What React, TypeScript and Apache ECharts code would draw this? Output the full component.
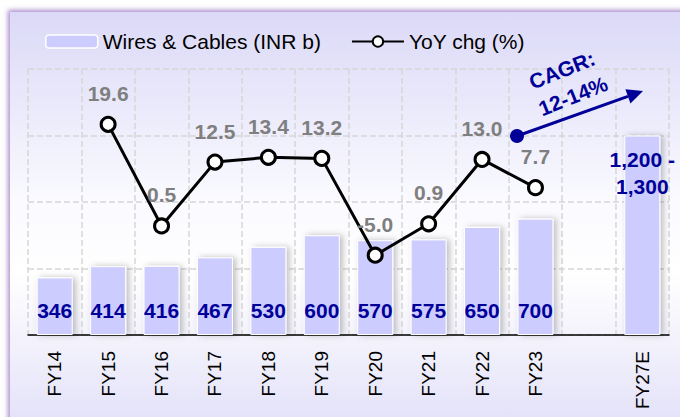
import React, { useEffect, useRef } from "react";
import * as echarts from "echarts";

const categories = ["FY14", "FY15", "FY16", "FY17", "FY18", "FY19", "FY20", "FY21", "FY22", "FY23", "", "FY27E"];
const wiresCables: (number | null)[] = [346, 414, 416, 467, 530, 600, 570, 575, 650, 700, null, 1200];
const yoyChg: (number | null)[] = [null, 19.6, 0.5, 12.5, 13.4, 13.2, -5.0, 0.9, 13.0, 7.7, null, null];
const fy27Range = ["1,200", "1,300"];
const cagrText = ["CAGR:", "12-14%"];

const FONT = "Liberation Sans";
const NAVY = "#000099";

export default function App() {
  const ref = useRef<HTMLDivElement>(null);
  useEffect(() => {
    if (!ref.current) return;
    const chart = echarts.init(ref.current, undefined, { renderer: "svg" });

    const barData = wiresCables.map((v, i) => {
      if (v === null) return "-";
      if (categories[i] === "FY27E") {
        return {
          value: v,
          label: {
            position: "insideTop",
            distance: 10,
            formatter: fy27Range[0] + " -\n" + fy27Range[1],
            lineHeight: 27,
          },
        };
      }
      return v;
    });

    // arrow geometry
    const sx = 517, sy = 136, tx = 643, ty = 91;
    const dx = tx - sx, dy = ty - sy;
    const len = Math.sqrt(dx * dx + dy * dy);
    const ux = dx / len, uy = dy / len;
    const hl = 16, hw = 7.5;
    const bx = tx - ux * hl, by = ty - uy * hl;
    const px = -uy, py = ux;

    chart.setOption({
      animation: false,
      textStyle: { fontFamily: FONT },
      grid: { left: 28, right: 11, top: 69, bottom: 82 },
      legend: {
        top: 26,
        left: 40,
        itemWidth: 52,
        itemHeight: 13,
        itemGap: 30,
        textStyle: { fontSize: 21, color: "#000", fontFamily: FONT },
        data: [
          { name: "Wires & Cables (INR b)", itemStyle: { color: "#ccccff", borderColor: "#fff", borderWidth: 1.5 } },
          { name: "YoY chg (%)" },
        ],
      },
      xAxis: {
        type: "category",
        data: categories,
        axisLine: { lineStyle: { color: "#000", width: 1.5 } },
        axisTick: { show: false },
        axisLabel: { rotate: 90, fontSize: 19, color: "#000", margin: 16, fontFamily: FONT },
        splitLine: { show: true, lineStyle: { color: "#d6d6d6", type: "dashed", width: 1.5 } },
      },
      yAxis: [
        {
          type: "value",
          min: 0,
          max: 1600,
          interval: 400,
          axisLabel: { show: false },
          axisLine: { show: false },
          axisTick: { show: false },
          splitLine: { show: true, lineStyle: { color: "#d6d6d6", type: "dashed", width: 1.5 } },
        },
        {
          type: "value",
          min: -20,
          max: 30,
          interval: 10,
          show: false,
          splitLine: { show: false },
        },
      ],
      graphic: [
        {
          type: "rect",
          z: -100,
          shape: { x: 10, y: 12, width: 700, height: 420 },
          style: {
            fill: new echarts.graphic.LinearGradient(0, 0, 0, 1, [
              { offset: 0, color: "#dbd9f7" },
              { offset: 0.45, color: "#fafaff" },
              { offset: 0.62, color: "#ffffff" },
              { offset: 1, color: "#e2e0f8" },
            ]),
            shadowColor: "rgba(150,110,190,0.8)",
            shadowBlur: 5,
            shadowOffsetX: -2,
            shadowOffsetY: -2,
          },
        },
        {
          type: "line",
          z: 100,
          shape: { x1: sx, y1: sy, x2: bx, y2: by },
          style: { stroke: NAVY, lineWidth: 3 },
        },
        {
          type: "polygon",
          z: 100,
          shape: {
            points: [
              [tx, ty],
              [bx + px * hw, by + py * hw],
              [bx - px * hw, by - py * hw],
            ],
          },
          style: { fill: NAVY },
        },
        {
          type: "circle",
          z: 100,
          shape: { cx: sx, cy: sy, r: 7 },
          style: { fill: NAVY },
        },
        {
          type: "text",
          z: 100,
          x: 562,
          y: 70,
          rotation: 0.38,
          style: {
            text: cagrText[0],
            fill: NAVY,
            font: "bold 21px " + FONT,
            align: "center",
            verticalAlign: "middle",
          },
        },
        {
          type: "text",
          z: 100,
          x: 573,
          y: 96,
          rotation: 0.38,
          style: {
            text: cagrText[1],
            fill: NAVY,
            font: "bold 21px " + FONT,
            align: "center",
            verticalAlign: "middle",
          },
        },
      ],
      series: [
        {
          name: "Wires & Cables (INR b)",
          type: "bar",
          yAxisIndex: 0,
          data: barData,
          barWidth: 36,
          itemStyle: {
            color: "#ccccff",
            borderColor: "#ffffff",
            borderWidth: 1,
            shadowColor: "rgba(0,0,0,0.25)",
            shadowBlur: 6,
            shadowOffsetX: 3,
            shadowOffsetY: 0,
          },
          label: {
            show: true,
            position: "insideBottom",
            distance: 14,
            color: NAVY,
            fontWeight: "bold",
            fontSize: 21,
            fontFamily: FONT,
          },
        },
        {
          name: "YoY chg (%)",
          type: "line",
          yAxisIndex: 1,
          data: yoyChg,
          symbol: "circle",
          symbolSize: 14,
          lineStyle: { color: "#000", width: 3 },
          itemStyle: { color: "#fff", borderColor: "#000", borderWidth: 3 },
          label: {
            show: true,
            position: "top",
            distance: 12,
            color: "#7f7f7f",
            fontWeight: "bold",
            fontSize: 21,
            fontFamily: FONT,
            formatter: (p: any) => (p.value == null ? "" : Number(p.value).toFixed(1)),
          },
          z: 5,
        },
      ],
    });
    return () => chart.dispose();
  }, []);
  return <div ref={ref} style={{ position: "absolute", left: 0, top: 0, width: 680, height: 417 }} />;
}
